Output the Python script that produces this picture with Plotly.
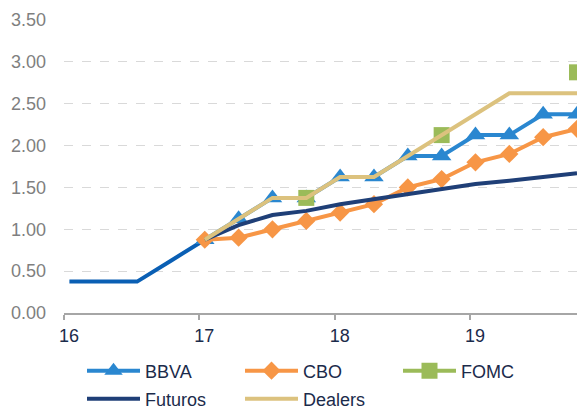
import plotly.graph_objects as go

# ---- data ----
hist_x = [16.04, 16.29, 16.54, 16.79, 17.04]
hist_y = [0.375, 0.375, 0.375, 0.625, 0.875]

quarters = [17.04, 17.29, 17.54, 17.79, 18.04, 18.29, 18.54, 18.79, 19.04, 19.29, 19.54, 19.79]
bbva = [0.875, 1.125, 1.375, 1.375, 1.625, 1.625, 1.875, 1.875, 2.125, 2.125, 2.375, 2.375]
cbo = [0.875, 0.90, 1.00, 1.10, 1.20, 1.30, 1.50, 1.60, 1.80, 1.90, 2.10, 2.20]
fomc = [None, None, None, 1.375, None, None, None, 2.125, None, None, None, 2.875]
futuros = [0.875, 1.05, 1.17, 1.22, 1.30, 1.36, 1.42, 1.49, 1.54, 1.58, 1.62, 1.67]
dealers = [0.875, 1.125, 1.375, 1.375, 1.625, 1.625, 1.875, 2.125, 2.375, 2.625, 2.625, 2.625]

x_ticks = [16, 17, 18, 19]
x_tick_labels = ["16", "17", "18", "19"]
y_ticks = [0, 0.5, 1.0, 1.5, 2.0, 2.5, 3.0, 3.5]
y_tick_labels = ["0.00", "0.50", "1.00", "1.50", "2.00", "2.50", "3.00", "3.50"]

FONT = "Liberation Sans, Arial, sans-serif"
NAVY_TXT = "#1b2b4b"
W, H = 577, 409

fig = go.Figure()

fig.add_trace(go.Scatter(x=hist_x, y=hist_y, mode="lines", showlegend=False,
                         line=dict(color="#0a5fb4", width=4), hoverinfo="skip"))
fig.add_trace(go.Scatter(x=quarters, y=bbva, name="BBVA", mode="lines+markers",
                         line=dict(color="#2a87d0", width=4), legend="legend",
                         marker=dict(symbol="triangle-up", size=17, color="#2a87d0")))
fig.add_trace(go.Scatter(x=quarters, y=cbo, name="CBO", mode="lines+markers",
                         line=dict(color="#f79646", width=4), legend="legend",
                         marker=dict(symbol="diamond", size=14, color="#f79646")))
fig.add_trace(go.Scatter(x=quarters, y=fomc, name="FOMC", mode="lines+markers",
                         connectgaps=False, legend="legend",
                         line=dict(color="#9bbb59", width=4),
                         marker=dict(symbol="square", size=16, color="#9bbb59")))
fig.add_trace(go.Scatter(x=quarters, y=futuros, name="Futuros", mode="lines",
                         legend="legend2",
                         line=dict(color="#1f3f77", width=4)))
fig.add_trace(go.Scatter(x=quarters, y=dealers, name="Dealers", mode="lines",
                         legend="legend2",
                         line=dict(color="#dcc27e", width=4)))

leg_common = dict(orientation="h", xanchor="left", yanchor="middle",
                  xref="container", yref="container",
                  entrywidth=90, entrywidthmode="pixels", itemwidth=53,
                  font=dict(family=FONT, size=18, color=NAVY_TXT),
                  bgcolor="rgba(0,0,0,0)")

fig.update_layout(
    width=W, height=H,
    margin=dict(l=64, r=0, t=20, b=96, autoexpand=False),
    paper_bgcolor="white", plot_bgcolor="white",
    font=dict(family=FONT, size=18, color=NAVY_TXT),
    legend=dict(x=82 / W, y=1 - 371 / H, **leg_common),
    legend2=dict(x=82 / W, y=1 - 399 / H, **leg_common),
    xaxis=dict(range=[16, 19.79], tickvals=x_ticks, ticktext=x_tick_labels,
               showgrid=False, zeroline=False, showline=True,
               linecolor="#a6a6a6", linewidth=2, ticks="outside", ticklen=5,
               tickcolor="#a6a6a6", tickwidth=1.5,
               tickfont=dict(family=FONT, size=18, color=NAVY_TXT),
               ticklabelshift=5, ticklabelstandoff=0),
    yaxis=dict(range=[0, 3.5], tickvals=y_ticks, ticktext=y_tick_labels,
               showgrid=True, gridcolor="#d9d9d9", gridwidth=1, griddash="dash",
               zeroline=False, showline=False, ticks="",
               tickfont=dict(family=FONT, size=18, color="#7f7f7f"),
               ticklabelstandoff=17),
)

fig.write_html("out.html",
               config={"displayModeBar": False},
               post_script="document.body.style.margin='0px';"
                           "document.body.style.overflow='hidden';")
